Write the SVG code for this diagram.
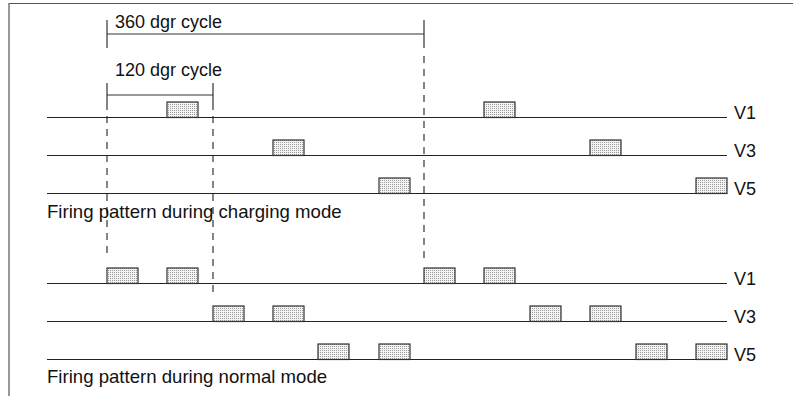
<svg xmlns="http://www.w3.org/2000/svg" width="793" height="396" viewBox="0 0 793 396">
  <defs>
    <pattern id="dots" width="2" height="2" patternUnits="userSpaceOnUse">
      <rect width="2" height="2" fill="#f4f4f4"/>
      <rect width="1" height="1" fill="#9a9a9a"/>
    </pattern>
    <style>
      .frame { stroke: #555; stroke-width: 1.2; fill: none; }
      .axis { stroke: #222; stroke-width: 1.2; fill: none; }
      .tick { stroke: #333; stroke-width: 1.2; fill: none; }
      .dash { stroke: #333; stroke-width: 1.2; fill: none; stroke-dasharray: 7 6; }
      .pulse { fill: url(#dots); stroke: #333; stroke-width: 1.2; }
      text { font-family: "Liberation Sans", Arial, sans-serif; font-size: 18px; fill: #111; }
      .title { font-size: 18.6px; }
    </style>
  </defs>

  <!-- outer frame: top and left edges only -->
  <path class="frame" d="M9,396 V3.5 H793"/>

  <!-- cycle markers and guide lines -->
  <g id="connectors">
    <path class="tick" d="M107,20 V48 M424,20 V48 M107,34 H424"/>
    <path class="tick" d="M107,83 V110 M213,83 V110 M107,95 H213"/>
    <path class="dash" d="M107,116 V256"/>
    <path class="dash" d="M213,116 V294"/>
    <path class="dash" d="M424,56 V262"/>
  </g>

  <g id="cycle-labels">
    <text x="115" y="27.5">360 dgr cycle</text>
    <text x="115" y="76">120 dgr cycle</text>
  </g>

  <!-- charging mode -->
  <g id="charging-V1">
    <line class="axis" x1="47" y1="117.5" x2="727" y2="117.5"/>
    <rect class="pulse" x="167" y="102" width="31" height="15.5"/>
    <rect class="pulse" x="484" y="102" width="31" height="15.5"/>
    <text x="734" y="119">V1</text>
  </g>
  <g id="charging-V3">
    <line class="axis" x1="47" y1="155.5" x2="727" y2="155.5"/>
    <rect class="pulse" x="273" y="140" width="31" height="15.5"/>
    <rect class="pulse" x="590" y="140" width="31" height="15.5"/>
    <text x="734" y="157">V3</text>
  </g>
  <g id="charging-V5">
    <line class="axis" x1="47" y1="193.5" x2="727" y2="193.5"/>
    <rect class="pulse" x="379" y="178" width="31" height="15.5"/>
    <rect class="pulse" x="696" y="178" width="31" height="15.5"/>
    <text x="734" y="195">V5</text>
  </g>
  <g id="charging-title">
    <text class="title" x="47" y="218">Firing pattern during charging mode</text>
  </g>

  <!-- normal mode -->
  <g id="normal-V1">
    <line class="axis" x1="47" y1="283.5" x2="727" y2="283.5"/>
    <rect class="pulse" x="107" y="268" width="31" height="15.5"/>
    <rect class="pulse" x="167" y="268" width="31" height="15.5"/>
    <rect class="pulse" x="424" y="268" width="31" height="15.5"/>
    <rect class="pulse" x="484" y="268" width="31" height="15.5"/>
    <text x="734" y="285">V1</text>
  </g>
  <g id="normal-V3">
    <line class="axis" x1="47" y1="321.5" x2="727" y2="321.5"/>
    <rect class="pulse" x="213" y="306" width="31" height="15.5"/>
    <rect class="pulse" x="273" y="306" width="31" height="15.5"/>
    <rect class="pulse" x="530" y="306" width="31" height="15.5"/>
    <rect class="pulse" x="590" y="306" width="31" height="15.5"/>
    <text x="734" y="323">V3</text>
  </g>
  <g id="normal-V5">
    <line class="axis" x1="47" y1="359.5" x2="727" y2="359.5"/>
    <rect class="pulse" x="318" y="344" width="31" height="15.5"/>
    <rect class="pulse" x="379" y="344" width="31" height="15.5"/>
    <rect class="pulse" x="636" y="344" width="31" height="15.5"/>
    <rect class="pulse" x="696" y="344" width="31" height="15.5"/>
    <text x="734" y="361">V5</text>
  </g>
  <g id="normal-title">
    <text class="title" x="47" y="383">Firing pattern during normal mode</text>
  </g>
</svg>
